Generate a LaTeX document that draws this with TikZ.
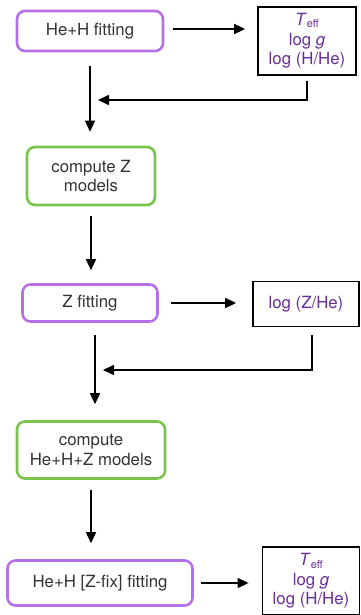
\documentclass[tikz,border=0pt]{standalone}
\usepackage{fontspec}
\setmainfont{TeX Gyre Heros}
\usetikzlibrary{arrows.meta}
\definecolor{fitpurple}{RGB}{182,112,230}
\definecolor{compgreen}{RGB}{122,196,78}
\definecolor{parpurple}{RGB}{104,44,152}
\tikzset{
	fitbox/.style={draw=fitpurple, line width=2.6pt, rounded corners=8pt, align=center, text=black!80},
	compbox/.style={draw=compgreen, line width=2.6pt, rounded corners=8pt, align=center, text=black!80},
	parbox/.style={draw=black, line width=1.8pt, align=center, text=parpurple},
	flow/.style={line width=1.6pt, -{Triangle[length=11pt,width=10pt]}},
}
\newcommand{\teffline}{\textit{T}\raisebox{-0.25ex}{\fontsize{11}{11}\selectfont eff}}

\begin{document}
\begin{tikzpicture}[x=1pt,y=-1pt]
		\useasboundingbox (0,0) rectangle (360,615);
		\fontsize{16.8}{19.5}\selectfont
		% fitting and model steps
		\node[fitbox, minimum width=146pt, minimum height=40pt] (fit1) at (90,31) {He+H fitting};
		\node[parbox, minimum width=98pt, minimum height=68pt] (par1) at (307,41) {\teffline\\log \textit{g}\\log (H/He)};
		\node[compbox, minimum width=128pt, minimum height=58pt] (comp1) at (91,176) {compute Z\\models};
		\node[fitbox, minimum width=135pt, minimum height=37pt] (fit2) at (90,303) {Z fitting};
		\node[parbox, minimum width=106pt, minimum height=45pt] (par2) at (306,304) {log (Z/He)};
		\node[compbox, minimum width=148pt, minimum height=57pt] (comp2) at (91,450) {compute\\He+H+Z models};
		\node[fitbox, minimum width=185pt, minimum height=45pt] (fit3) at (100,583) {He+H [Z-fix] fitting};
		\node[parbox, minimum width=97pt, minimum height=68pt] (par3) at (311,581) {\teffline\\log \textit{g}\\log (H/He)};
		\coordinate (join1) at (90,100);
		\coordinate (join2) at (95,370);
		% arrows
		\draw[flow, shorten <=9pt, shorten >=12pt] ([yshift=2pt]fit1.east) -- ([yshift=2pt]fit1.east -| par1.west);
		\draw[flow, shorten <=5pt, shorten >=8pt] (par1.south) |- (join1);
		\draw[flow, shorten <=14pt, shorten >=14pt] (fit1.south) -- (comp1.north -| fit1.south);
		\draw[flow, shorten <=10pt, shorten >=13pt] (comp1.south) -- (fit2.north -| comp1.south);
		\draw[flow, shorten <=12pt, shorten >=16pt] (fit2.east) -- (fit2.east -| par2.west);
		\draw[flow, shorten <=8pt, shorten >=8pt] ([xshift=6pt]par2.south) |- (join2);
		\draw[flow, shorten <=12pt, shorten >=16pt] (fit2.south -| join2) -- (comp2.north -| join2);
		\draw[flow, shorten <=10pt, shorten >=16pt] (comp2.south) -- (fit3.north -| comp2.south);
		\draw[flow, shorten <=7pt, shorten >=13pt] (fit3.east) -- (fit3.east -| par3.west);
	\end{tikzpicture}
\end{document}
